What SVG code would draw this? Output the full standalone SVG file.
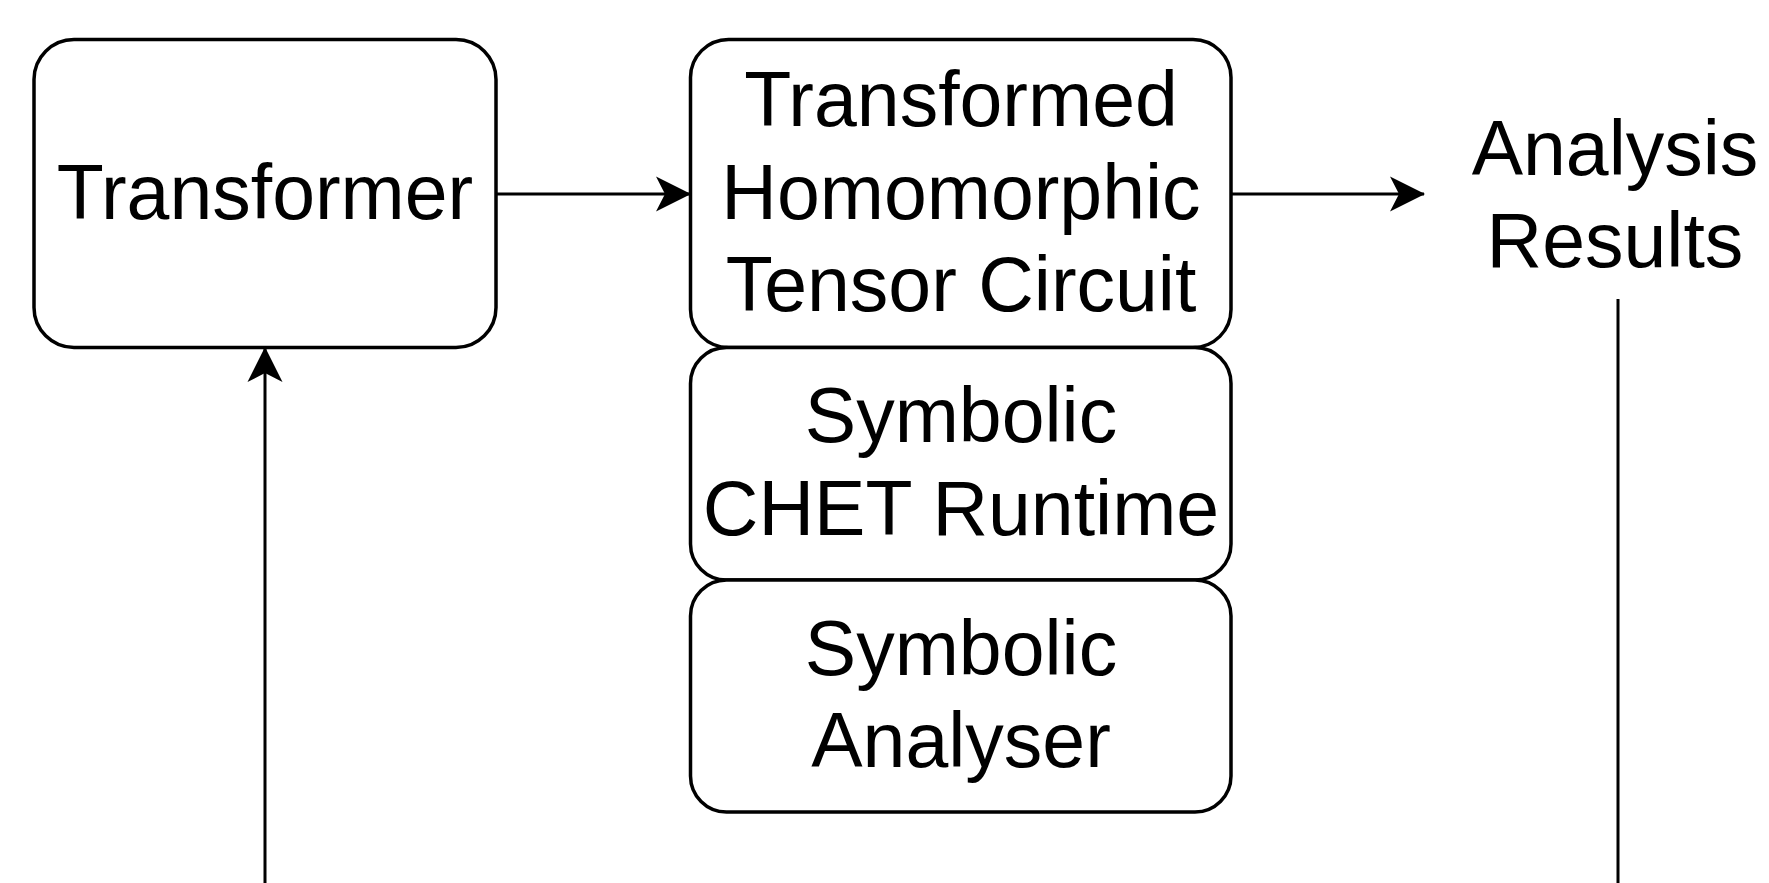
<svg xmlns="http://www.w3.org/2000/svg" width="1769" height="883" viewBox="0 0 1769 883">
<style>
.box{fill:#fff;stroke:#000;stroke-width:3.5}
.t{font-family:"Liberation Sans",Arial,sans-serif;font-size:77px;fill:#000;text-anchor:middle}
.c{fill:none;stroke:#000;stroke-width:3}
</style>
<defs>
<marker id="ah" markerUnits="userSpaceOnUse" markerWidth="40" markerHeight="40" viewBox="0 0 40 40" refX="34" refY="20" orient="auto">
<path d="M35 20 L0 2.5 L9 20 L0 37.5 Z" fill="#000"/>
</marker>
</defs>
<rect width="1769" height="883" fill="#fff"/>
<g id="connectors">
<line class="c" x1="496" y1="194" x2="690" y2="194" marker-end="url(#ah)"/>
<line class="c" x1="1231" y1="194" x2="1424" y2="194" marker-end="url(#ah)"/>
<line class="c" x1="265" y1="883" x2="265" y2="348" marker-end="url(#ah)"/>
<line class="c" x1="1618" y1="299" x2="1618" y2="883"/>
</g>
<g id="transformer">
<rect class="box" x="34" y="39.5" width="462" height="308" rx="40"/>
<text class="t" x="265" y="219">Transformer</text>
</g>
<g id="circuit">
<rect class="box" x="690.5" y="39.5" width="540.5" height="308" rx="38"/>
<text class="t" x="961" y="126">Transformed</text>
<text class="t" x="961" y="219">Homomorphic</text>
<text class="t" x="961" y="311">Tensor Circuit</text>
</g>
<g id="runtime">
<rect class="box" x="690.5" y="347.5" width="540.5" height="232.5" rx="36"/>
<text class="t" x="961" y="442">Symbolic</text>
<text class="t" x="961" y="535">CHET Runtime</text>
</g>
<g id="analyser">
<rect class="box" x="690.5" y="580" width="540.5" height="232" rx="36"/>
<text class="t" x="961" y="675">Symbolic</text>
<text class="t" x="961" y="767">Analyser</text>
</g>
<g id="results">
<text class="t" x="1615" y="175">Analysis</text>
<text class="t" x="1615" y="267">Results</text>
</g>
</svg>
